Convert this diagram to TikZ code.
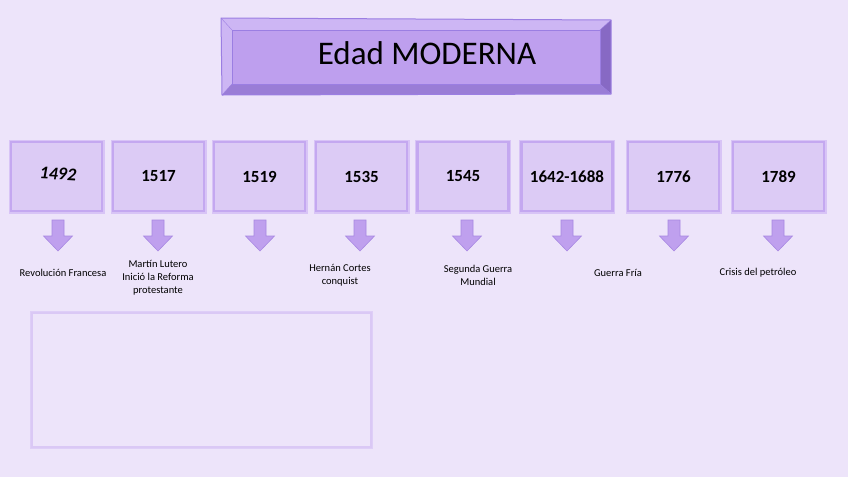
\documentclass[tikz,border=0pt]{standalone}
\usepackage{fontspec}
\setmainfont{Carlito}
\usetikzlibrary{calc}
\definecolor{bg}{HTML}{EDE4FA}
\definecolor{boxfill}{HTML}{DCCBF5}
\definecolor{boxedge}{HTML}{C4A8F0}
\definecolor{boxglow}{HTML}{D8C4F6}
\definecolor{arrowfill}{HTML}{BFA0EE}
\definecolor{arrowedge}{HTML}{A888E2}
\definecolor{titleface}{HTML}{BE9FEE}
\definecolor{titlelight}{HTML}{CDB6F4}
\definecolor{titledark}{HTML}{9A7DD6}
\definecolor{titledarker}{HTML}{8769C4}
\definecolor{titleedge}{HTML}{9B7EE2}
\definecolor{notebox}{HTML}{DAC8F5}
\tikzset{
  yearbox/.style={draw=boxedge, line width=2.5pt, fill=boxfill, minimum width=88pt, minimum height=66pt, inner sep=0pt, font=\fontsize{17}{20}\selectfont\bfseries},
  downarrow/.style={fill=arrowfill, draw=arrowedge, line width=0.6pt, line join=miter},
  label/.style={align=center, font=\fontsize{10.5}{13}\selectfont, inner sep=0pt}
}
\begin{document}
\begin{tikzpicture}[x=1pt,y=-1pt]
\fill[bg] (0,0) rectangle (848,477);
\useasboundingbox (0,0) rectangle (848,477);
% title bevelled box
\fill[titlelight] (221,18) -- (611,20) -- (600,30) -- (232,30) -- cycle;
\fill[titlelight] (221,18) -- (232,30) -- (232,84) -- (222,95) -- cycle;
\fill[titledark] (222,95) -- (232,84) -- (600,84) -- (611,94) -- cycle;
\fill[titledarker] (611,20) -- (600,30) -- (600,84) -- (611,94) -- cycle;
\fill[titleface] (232,30) rectangle (600,84);
\draw[titleedge, line width=1pt, line join=round] (221,18) -- (611,20) -- (611,94) -- (222,95) -- cycle;
\draw[titleedge, line width=0.6pt] (232,30) rectangle (600,84);
\draw[titleedge, line width=0.4pt] (221,18) -- (232,30) (611,20) -- (600,30) (611,94) -- (600,84) (222,95) -- (232,84);
\node[font=\fontsize{33}{38}\selectfont] (title) at (427,53) {Edad MODERNA};
% year boxes
\foreach \n/\cx/\yr in {b2/158.5/1517, b3/259.5/1519, b4/361.5/1535, b5/463/1545, b6/567/1642-1688, b7/673.5/1776, b8/778.5/1789}{
  \draw[boxglow, line width=5pt] (\cx-45.5,142) rectangle (\cx+45.5,211);
  \node[yearbox, minimum width=91pt, minimum height=69pt] (\n) at (\cx,176.5) {\yr};
}
\draw[boxglow, line width=5pt] (11,142) rectangle (102,211);
\node[yearbox, minimum width=91pt, minimum height=69pt] (b1) at (56.5,176.5) {};
\node[font=\fontsize{18}{20}\selectfont\itshape\bfseries, rotate=-3] (y1) at (58,174) {1492};
% arrows
\foreach \n/\cx in {a1/58, a2/158, a3/260, a4/360, a5/467, a6/567, a7/674, a8/778}{
  \coordinate (\n) at (\cx,220);
  \draw[downarrow] ($(\n)+(-6,0)$) -- ($(\n)+(6,0)$) -- ($(\n)+(6,16)$) -- ($(\n)+(14.5,16)$) -- ($(\n)+(0,31)$) -- ($(\n)+(-14.5,16)$) -- ($(\n)+(-6,16)$) -- cycle;
}
% labels
\node[label] (l1) at (63,273) {Revolución Francesa};
\node[label] (l2) at (158,278) {Martín Lutero\\Inició la Reforma\\protestante};
\node[label] (l4) at (340,275) {Hernán Cortes\\conquist};
\node[label] (l5) at (478,275.5) {Segunda Guerra\\Mundial};
\node[label] (l7) at (618,273) {Guerra Fría};
\node[label] (l8) at (758,273) {Crisis del petróleo};
% note box
\draw[boxglow!70!bg, line width=4pt] (32,312.5) rectangle (370.5,446.5);
\draw[notebox, line width=2pt, fill=bg] (32,312.5) rectangle (370.5,446.5);
\end{tikzpicture}
\end{document}
